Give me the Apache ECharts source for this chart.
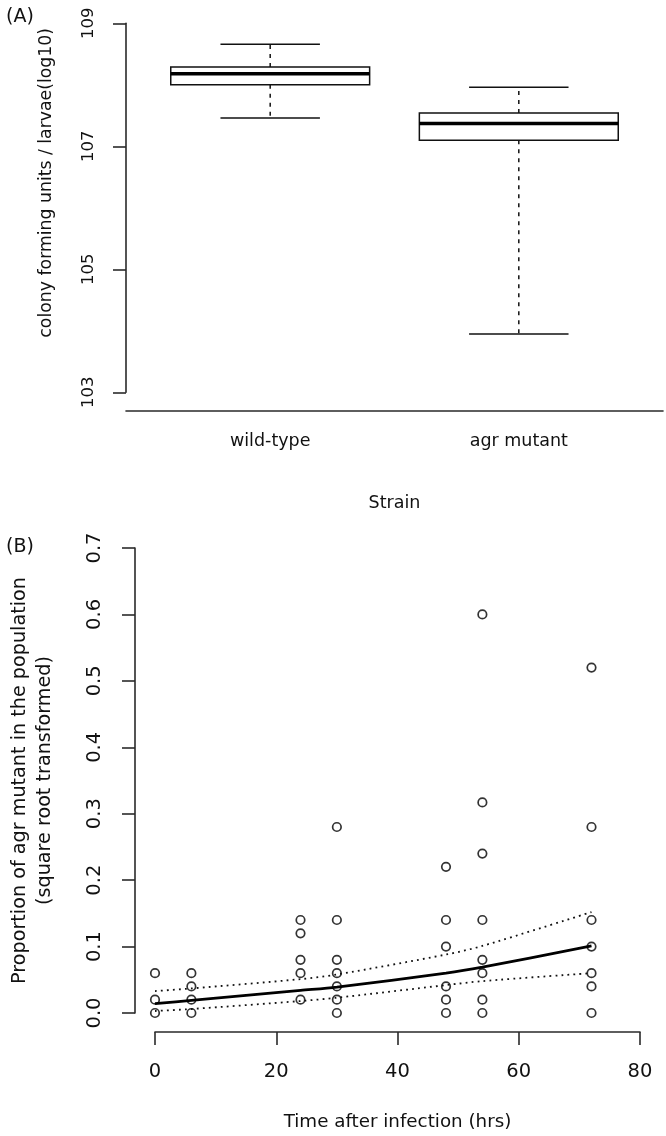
<!DOCTYPE html>
<html><head><meta charset="utf-8">
<script src="https://cdn.jsdelivr.net/npm/echarts@6/dist/echarts.min.js"></script>
<style>html,body{margin:0;padding:0;background:#fff}#c{width:666px;height:1136px}</style>
</head><body><div id="c"></div>
<script>
// ---------- Panel A data (log10 CFU per larva) ----------
const strains = ['wild-type', 'agr mutant'];
// [lower whisker, Q1, median, Q3, upper whisker]
const wildTypeStats = [7.46, 8.00, 8.18, 8.29, 8.66];
const agrMutantStats = [3.95, 7.10, 7.37, 7.54, 7.96];
const yTickExpA = [3, 5, 7, 9];

// ---------- Panel B data ----------
const times = [0, 6, 24, 30, 48, 54, 72];
const prop_t0 = [0.06, 0.02, 0.00];
const prop_t6 = [0.06, 0.04, 0.02, 0.00];
const prop_t24 = [0.14, 0.12, 0.08, 0.06, 0.02];
const prop_t30 = [0.28, 0.14, 0.08, 0.06, 0.04, 0.02, 0.00];
const prop_t48 = [0.22, 0.14, 0.10, 0.04, 0.02, 0.00];
const prop_t54 = [0.60, 0.317, 0.24, 0.14, 0.08, 0.06, 0.02, 0.00];
const prop_t72 = [0.52, 0.28, 0.14, 0.10, 0.06, 0.04, 0.00];
const fitTimes = [0, 6, 24, 30, 48, 54, 72];
const fitMean = [0.014, 0.019, 0.034, 0.039, 0.060, 0.069, 0.101];
const fitUpper = [0.033, 0.037, 0.051, 0.058, 0.088, 0.101, 0.152];
const fitLower = [0.003, 0.006, 0.018, 0.023, 0.042, 0.048, 0.060];

const boxStats = [wildTypeStats, agrMutantStats];
const propsByTime = [prop_t0, prop_t6, prop_t24, prop_t30, prop_t48, prop_t54, prop_t72];
const scatterData = [];
times.forEach((t, i) => propsByTime[i].forEach(v => scatterData.push([t, v])));
const pairs = (xs, ys) => xs.map((x, i) => [x, ys[i]]);

const FONT = 'DejaVu Sans';
const TXT = '#111';
const AX = '#2a2a2a';
const axisLineStyle = { color: AX, width: 1.6 };

const chart = echarts.init(document.getElementById('c'), null, { renderer: 'canvas' });

function renderBox(params, api) {
  const x = api.value(0);
  const lo = api.value(1), q1 = api.value(2), med = api.value(3), q3 = api.value(4), hi = api.value(5);
  const c = v => api.coord([x, v]);
  const half = api.size([0.8, 0])[0] / 2;
  const cap = half / 2;
  const pLo = c(lo), pQ1 = c(q1), pMed = c(med), pQ3 = c(q3), pHi = c(hi);
  const cx = pMed[0];
  const ls = { stroke: '#111', lineWidth: 1.5, fill: null };
  return {
    type: 'group',
    children: [
      { type: 'line', shape: { x1: cx, y1: pQ3[1], x2: cx, y2: pHi[1] }, style: Object.assign({}, ls, { lineDash: [4, 5] }) },
      { type: 'line', shape: { x1: cx, y1: pQ1[1], x2: cx, y2: pLo[1] }, style: Object.assign({}, ls, { lineDash: [4, 5] }) },
      { type: 'line', shape: { x1: cx - cap, y1: pHi[1], x2: cx + cap, y2: pHi[1] }, style: ls },
      { type: 'line', shape: { x1: cx - cap, y1: pLo[1], x2: cx + cap, y2: pLo[1] }, style: ls },
      { type: 'rect', shape: { x: cx - half, y: pQ3[1], width: 2 * half, height: pQ1[1] - pQ3[1] }, style: { fill: '#fff', stroke: '#111', lineWidth: 1.5 } },
      { type: 'line', shape: { x1: cx - half, y1: pMed[1], x2: cx + half, y2: pMed[1] }, style: { stroke: '#000', lineWidth: 3.5 } }
    ]
  };
}

const option = {
  animation: false,
  backgroundColor: '#fff',
  textStyle: { fontFamily: FONT, color: TXT },
  title: [
    { text: '(A)', left: 1, top: 3, textStyle: { fontSize: 19, fontWeight: 'normal', color: TXT, fontFamily: FONT } },
    { text: '(B)', left: 1, top: 533, textStyle: { fontSize: 19, fontWeight: 'normal', color: TXT, fontFamily: FONT } }
  ],
  grid: [
    { left: 126, right: 3, top: 23.3, height: 369, containLabel: false },
    { left: 152, width: 488, top: 548, height: 465, containLabel: false }
  ],
  xAxis: [
    {
      gridIndex: 0, type: 'value', min: 0.42, max: 2.58, offset: 18,
      axisLine: { show: true, onZero: false, lineStyle: axisLineStyle },
      axisTick: { show: false },
      splitLine: { show: false },
      axisLabel: {
        customValues: [1, 2],
        formatter: v => strains[Math.round(v) - 1] || '',
        fontSize: 17.5, margin: 22, color: TXT, fontFamily: FONT
      },
      name: 'Strain', nameLocation: 'middle', nameGap: 84,
      nameTextStyle: { fontSize: 17.5, color: TXT, fontFamily: FONT }
    },
    {
      gridIndex: 1, type: 'value', min: 0, max: 80, interval: 20, offset: 19,
      axisLine: { show: true, onZero: false, lineStyle: axisLineStyle },
      axisTick: { show: true, length: 13, lineStyle: axisLineStyle },
      splitLine: { show: false },
      axisLabel: { fontSize: 19.5, margin: 30, color: TXT, fontFamily: FONT },
      name: 'Time after infection (hrs)', nameLocation: 'middle', nameGap: 81,
      nameTextStyle: { fontSize: 18.3, color: TXT, fontFamily: FONT }
    }
  ],
  yAxis: [
    {
      gridIndex: 0, type: 'value', min: 3, max: 9,
      axisLine: { show: true, onZero: false, lineStyle: axisLineStyle },
      axisTick: { show: true, length: 13, customValues: yTickExpA, lineStyle: axisLineStyle },
      splitLine: { show: false },
      axisLabel: {
        customValues: yTickExpA, rotate: 90,
        formatter: v => '10' + v,
        fontSize: 16.5, margin: 29, color: TXT, fontFamily: FONT
      },
      name: 'colony forming units / larvae(log10)', nameLocation: 'middle', nameGap: 71,
      nameTextStyle: { fontSize: 17.3, color: TXT, fontFamily: FONT, padding: [0, 0, 0, 50] }
    },
    {
      gridIndex: 1, type: 'value', min: 0, max: 0.7, interval: 0.1, offset: 20,
      axisLine: { show: true, onZero: false, lineStyle: axisLineStyle },
      axisTick: { show: true, length: 13, lineStyle: axisLineStyle },
      splitLine: { show: false },
      axisLabel: {
        rotate: 90, formatter: v => v.toFixed(1),
        fontSize: 19.5, margin: 30, color: TXT, fontFamily: FONT
      },
      name: 'Proportion of agr mutant in the population\n(square root transformed)',
      nameLocation: 'middle', nameGap: 77,
      nameTextStyle: { fontSize: 19.2, lineHeight: 25, color: TXT, fontFamily: FONT }
    }
  ],
  series: [
    {
      type: 'custom', xAxisIndex: 0, yAxisIndex: 0,
      data: boxStats.map((s, i) => [i + 1].concat(s)),
      encode: { x: 0, y: [1, 2, 3, 4, 5] },
      renderItem: renderBox,
      clip: false
    },
    {
      type: 'scatter', xAxisIndex: 1, yAxisIndex: 1,
      data: scatterData, symbol: 'circle', symbolSize: 8.5, clip: false,
      itemStyle: { color: 'rgba(0,0,0,0)', borderColor: '#000', borderWidth: 1.7 },
      z: 3
    },
    {
      type: 'line', xAxisIndex: 1, yAxisIndex: 1, data: pairs(fitTimes, fitMean),
      showSymbol: false, smooth: 0.3, lineStyle: { color: '#000', width: 2.7 }, z: 4
    },
    {
      type: 'line', xAxisIndex: 1, yAxisIndex: 1, data: pairs(fitTimes, fitUpper),
      showSymbol: false, smooth: 0.3, lineStyle: { color: '#111', width: 1.8, type: [1.8, 4.2] }, z: 4
    },
    {
      type: 'line', xAxisIndex: 1, yAxisIndex: 1, data: pairs(fitTimes, fitLower),
      showSymbol: false, smooth: 0.3, lineStyle: { color: '#111', width: 1.8, type: [1.8, 4.2] }, z: 4
    }
  ]
};
chart.setOption(option);
</script>
</body></html>
